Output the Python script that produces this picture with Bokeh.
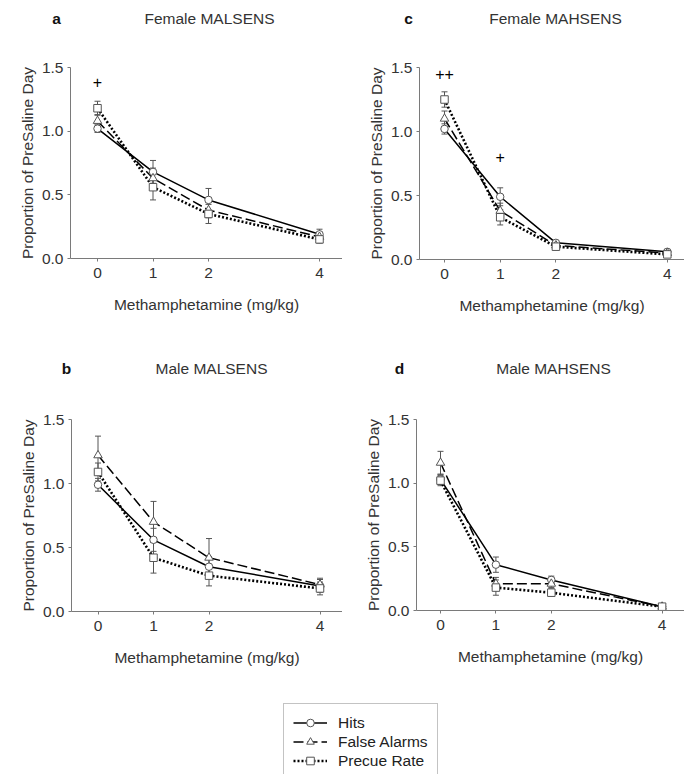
from bokeh.plotting import figure
from bokeh.models import (ColumnDataSource, Whisker, TeeHead, Legend, LegendItem,
                          FixedTicker, Range1d, NumeralTickFormatter)
from bokeh.layouts import column, row
from bokeh.core.properties import value
from bokeh.embed import file_html
from bokeh.resources import INLINE

# ---------------- data ----------------
doses = [0, 1, 2, 4]
dose_ticks = [0, 1, 2, 4]
y_ticks = [0.0, 0.5, 1.0, 1.5]
series_names = ["Hits", "False Alarms", "Precue Rate"]
panel_letters = ["a", "c", "b", "d"]
panel_titles = ["Female MALSENS", "Female MAHSENS", "Male MALSENS", "Male MAHSENS"]

# a: Female MALSENS
a_hits = [1.02, 0.68, 0.46, 0.19]
a_hits_sem = [0.03, 0.09, 0.09, 0.04]
a_fa = [1.08, 0.63, 0.38, 0.17]
a_fa_sem = [0.05, 0.08, 0.06, 0.03]
a_pre = [1.18, 0.56, 0.35, 0.15]
a_pre_sem = [0.055, 0.10, 0.075, 0.03]
a_sig_x = [0]
a_sig_y = [1.39]
a_sig_txt = ["+"]

# c: Female MAHSENS
c_hits = [1.02, 0.49, 0.13, 0.06]
c_hits_sem = [0.04, 0.07, 0.02, 0.02]
c_fa = [1.10, 0.38, 0.11, 0.05]
c_fa_sem = [0.06, 0.06, 0.02, 0.02]
c_pre = [1.25, 0.33, 0.10, 0.04]
c_pre_sem = [0.06, 0.06, 0.02, 0.02]
c_sig_x = [0, 1]
c_sig_y = [1.45, 0.80]
c_sig_txt = ["++", "+"]

# b: Male MALSENS
b_hits = [0.99, 0.56, 0.35, 0.20]
b_hits_sem = [0.05, 0.09, 0.08, 0.05]
b_fa = [1.22, 0.70, 0.42, 0.21]
b_fa_sem = [0.15, 0.16, 0.15, 0.05]
b_pre = [1.09, 0.42, 0.28, 0.18]
b_pre_sem = [0.07, 0.12, 0.08, 0.05]
b_sig_x = []
b_sig_y = []
b_sig_txt = []

# d: Male MAHSENS
d_hits = [1.03, 0.36, 0.24, 0.03]
d_hits_sem = [0.04, 0.06, 0.03, 0.01]
d_fa = [1.16, 0.21, 0.21, 0.03]
d_fa_sem = [0.09, 0.05, 0.03, 0.01]
d_pre = [1.02, 0.18, 0.14, 0.03]
d_pre_sem = [0.04, 0.06, 0.03, 0.01]
d_sig_x = []
d_sig_y = []
d_sig_txt = []

FONT = "Liberation Sans"
FS = "15.5px"
TXT = "#333333"
AX = "#7a7a7a"

styles = [
    dict(dash="solid", width=1.5, marker="circle", msize=7.5),
    dict(dash="10 4", width=1.5, marker="triangle", msize=8.5),
    dict(dash="2 2", width=2.6, marker="square", msize=7.5),
]


def make_panel(series, sems, sig, geom):
    # geom: page-pixel layout of the panel
    left, fw, x0px, ppu = geom["left"], geom["fw"], geom["x0"], geom["ppu"]
    ftop, fh, fig_top, fig_h = geom["ftop"], geom["fh"], geom["fig_top"], geom["fig_h"]
    xs = -(x0px - left) / ppu
    xe = xs + fw / ppu
    p = figure(frame_width=fw, frame_height=fh,
               min_border_left=left - geom["page_left"],
               min_border_right=geom["page_left"] + 342 - left - fw,
               min_border_top=ftop - fig_top, min_border_bottom=fig_top + fig_h - ftop - fh,
               x_range=Range1d(xs, xe), y_range=Range1d(0, 1.5),
               output_backend="svg", toolbar_location=None, tools="")
    p.outline_line_color = None
    p.xgrid.visible = False
    p.ygrid.visible = False

    for ax in (p.xaxis[0], p.yaxis[0]):
        ax.axis_line_color = AX
        ax.axis_line_width = 1
        ax.major_tick_line_color = AX
        ax.major_tick_in = 0
        ax.major_tick_out = 3
        ax.minor_tick_line_color = None
        ax.major_label_text_font = FONT
        ax.major_label_text_font_size = FS
        ax.major_label_text_color = TXT
        ax.axis_label_text_font = FONT
        ax.axis_label_text_font_size = FS
        ax.axis_label_text_font_style = "normal"
        ax.axis_label_text_color = TXT
    p.xaxis[0].ticker = FixedTicker(ticks=dose_ticks)
    p.yaxis[0].ticker = FixedTicker(ticks=y_ticks)
    p.yaxis[0].formatter = NumeralTickFormatter(format="0.0")
    p.xaxis[0].major_label_standoff = 6
    p.yaxis[0].major_label_standoff = 4
    p.xaxis[0].axis_label = "Methamphetamine (mg/kg)"
    p.xaxis[0].axis_label_standoff = 15
    p.yaxis[0].axis_label = "Proportion of PreSaline Day"
    p.yaxis[0].axis_label_standoff = 3

    # error bars
    for vals, sem in zip(series, sems):
        src = ColumnDataSource(dict(x=doses,
                                    up=[v + s for v, s in zip(vals, sem)],
                                    lo=[v - s for v, s in zip(vals, sem)]))
        w = Whisker(source=src, base="x", upper="up", lower="lo",
                    line_color="#555555", line_width=1,
                    upper_head=TeeHead(size=6, line_color="#555555", line_width=1),
                    lower_head=TeeHead(size=6, line_color="#555555", line_width=1))
        p.add_layout(w)
    # lines
    for vals, st in zip(series, styles):
        p.line(doses, vals, line_color="black", line_width=st["width"], line_dash=st["dash"])
    # markers
    for vals, st in zip(series, styles):
        p.scatter(doses, vals, marker=st["marker"], size=st["msize"],
                  fill_color="white", line_color="#555555", line_width=1)
    # significance marks
    if sig[0]:
        p.text(x=sig[0], y=sig[1], text=sig[2], text_font=value(FONT), text_font_size="16px",
               text_color="black", text_align="center", text_baseline="middle")
    return p


def make_strip(height, letters, letter_xs, titles, title_xs, text_y):
    # a title strip whose ranges are in page pixels
    s = figure(frame_width=684, frame_height=height, min_border=0,
               x_range=Range1d(0, 684), y_range=Range1d(height, 0),
               output_backend="svg", toolbar_location=None, tools="")
    s.axis.visible = False
    s.grid.visible = False
    s.outline_line_color = None
    s.text(x=letter_xs, y=[text_y] * len(letters), text=letters, text_font=value(FONT),
           text_font_size=FS, text_font_style="bold", text_color="#111111",
           text_align="center", text_baseline="middle")
    s.text(x=title_xs, y=[text_y] * len(titles), text=titles, text_font=value(FONT),
           text_font_size=FS, text_color=TXT, text_align="center", text_baseline="middle")
    return s


# page layout (pixels): strips hold the panel letters and titles
STRIP1_H = 36
STRIP2_H = 50
geo_a = dict(page_left=0, left=70, fw=272, x0=97, ppu=55.5, ftop=67, fh=191,
             fig_top=STRIP1_H, fig_h=340 - STRIP1_H)
geo_c = dict(page_left=342, left=419, fw=265, x0=444, ppu=55.7, ftop=65, fh=192,
             fig_top=STRIP1_H, fig_h=340 - STRIP1_H)
geo_b = dict(page_left=0, left=71, fw=271, x0=97.5, ppu=55.5, ftop=417, fh=192,
             fig_top=340 + STRIP2_H, fig_h=340 - STRIP2_H)
geo_d = dict(page_left=342, left=416, fw=268, x0=440, ppu=55.4, ftop=419, fh=191,
             fig_top=340 + STRIP2_H, fig_h=340 - STRIP2_H)

strip1 = make_strip(STRIP1_H, panel_letters[0:2], [56, 408], panel_titles[0:2], [209, 555], 18)
strip2 = make_strip(STRIP2_H, panel_letters[2:4], [66, 399], panel_titles[2:4], [211, 553], 28)

pa = make_panel([a_hits, a_fa, a_pre], [a_hits_sem, a_fa_sem, a_pre_sem],
                (a_sig_x, a_sig_y, a_sig_txt), geo_a)
pc = make_panel([c_hits, c_fa, c_pre], [c_hits_sem, c_fa_sem, c_pre_sem],
                (c_sig_x, c_sig_y, c_sig_txt), geo_c)
pb = make_panel([b_hits, b_fa, b_pre], [b_hits_sem, b_fa_sem, b_pre_sem],
                (b_sig_x, b_sig_y, b_sig_txt), geo_b)
pd = make_panel([d_hits, d_fa, d_pre], [d_hits_sem, d_fa_sem, d_pre_sem],
                (d_sig_x, d_sig_y, d_sig_txt), geo_d)

# legend strip (renderers hold no visible points; only their legend swatches show)
nan = float("nan")
pl = figure(frame_width=684, frame_height=94, min_border=0,
            x_range=Range1d(0, 1), y_range=Range1d(0, 1),
            output_backend="svg", toolbar_location=None, tools="")
pl.axis.visible = False
pl.grid.visible = False
pl.outline_line_color = None
items = []
for name, st in zip(series_names, styles):
    lr = pl.line(x=[nan], y=[nan], line_color="black", line_width=st["width"], line_dash=st["dash"])
    sr = pl.scatter(x=[nan], y=[nan], marker=st["marker"], size=st["msize"] - 1.5,
                    fill_color="white", line_color="#555555", line_width=1)
    items.append(LegendItem(label=name, renderers=[lr, sr]))
leg = Legend(items=items, location=(283, -6), orientation="vertical",
             glyph_width=34, glyph_height=19, label_height=19, spacing=0, padding=9,
             margin=0, label_standoff=11,
             label_text_font=FONT, label_text_font_size=FS, label_text_color="#222222",
             border_line_color="#888888", border_line_width=1,
             background_fill_color="white", background_fill_alpha=1)
pl.add_layout(leg)

layout = column(strip1, row(pa, pc, spacing=0), strip2, row(pb, pd, spacing=0), pl, spacing=0)

with open("out.html", "w") as f:
    f.write(file_html(layout, INLINE))
